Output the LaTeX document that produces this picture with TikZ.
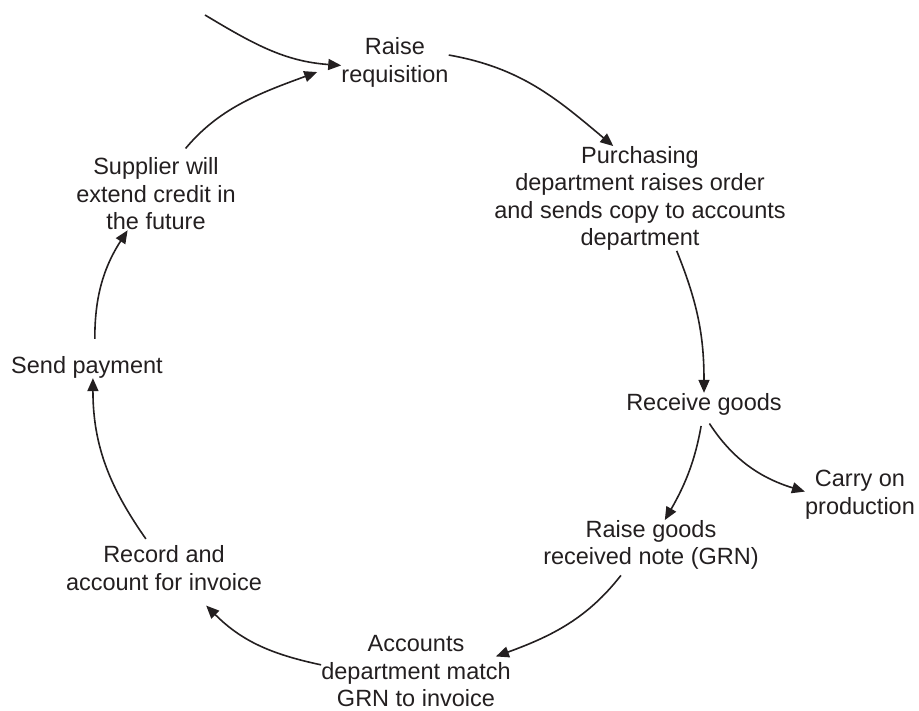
\documentclass[tikz,border=0pt]{standalone}
\usepackage{fontspec}
\setmainfont{Liberation Sans}
\usepackage{xcolor}
\usepackage{tikz}
\usetikzlibrary{arrows.meta}
\definecolor{inkgray}{RGB}{35, 31, 32}

\begin{document}
\begin{tikzpicture}[
    x=1pt, y=1pt,
    stage/.style={inner sep=0pt, align=center, text=inkgray, font=\fontsize{23.5}{27.5}\selectfont},
    flow/.style={-{Triangle[length=13pt, width=11pt]}, inkgray, line width=1.6pt}
]

\useasboundingbox (0,0) rectangle (919,711);

\coordinate (entry) at (205,696);

\node[stage] (requisition) at (395,648.4) {Raise\\requisition};

\node[stage] (purchasing) at (640,512.5) {Purchasing\\department raises order\\and sends copy to accounts\\department};

\node[stage] (receive) at (704,307) {Receive goods};

\node[stage] (carry) at (860,216.5) {Carry on\\production};

\node[stage] (grn) at (651,166) {Raise goods\\received note (GRN)};

\node[stage] (match) at (416,39.5) {Accounts\\department match\\GRN to invoice};

\node[stage] (record) at (164,143) {Record and\\account for invoice};

\node[stage] (payment) at (87,344) {Send payment};

\node[stage] (supplier) at (156,517) {Supplier will\\extend credit in\\the future};

% Purchasing cycle, clockwise
\draw[flow] (entry) to[out=-31, in=176] (requisition.183);
\draw[flow] (requisition.8) to[out=-10, in=140] (purchasing.117);
\draw[flow] (purchasing.-55) to[out=-68, in=90] (receive.north);
\draw[flow, shorten <=11pt] (receive.-95) to[out=-100, in=60] (grn.61);
\draw[flow, shorten <=10pt] (receive.south) to[out=-57, in=163] (carry.177);
\draw[flow, shorten <=7pt] (grn.-136) to[out=-128, in=20] ([xshift=-15pt]match.9);
\draw[flow] (match.176) to[out=168, in=-45] ([xshift=-56pt, yshift=-15pt]record.south east);
\draw[flow, shorten <=8pt] (record.121) to[out=125, in=-90] (payment.-62);
\draw[flow, shorten <=17pt] (payment.55) to[out=90, in=237] (supplier.-128);
\draw[flow, shorten <=12pt] (supplier.59) to[out=50, in=200] ([xshift=-24pt]requisition.190);

\end{tikzpicture}
\end{document}
